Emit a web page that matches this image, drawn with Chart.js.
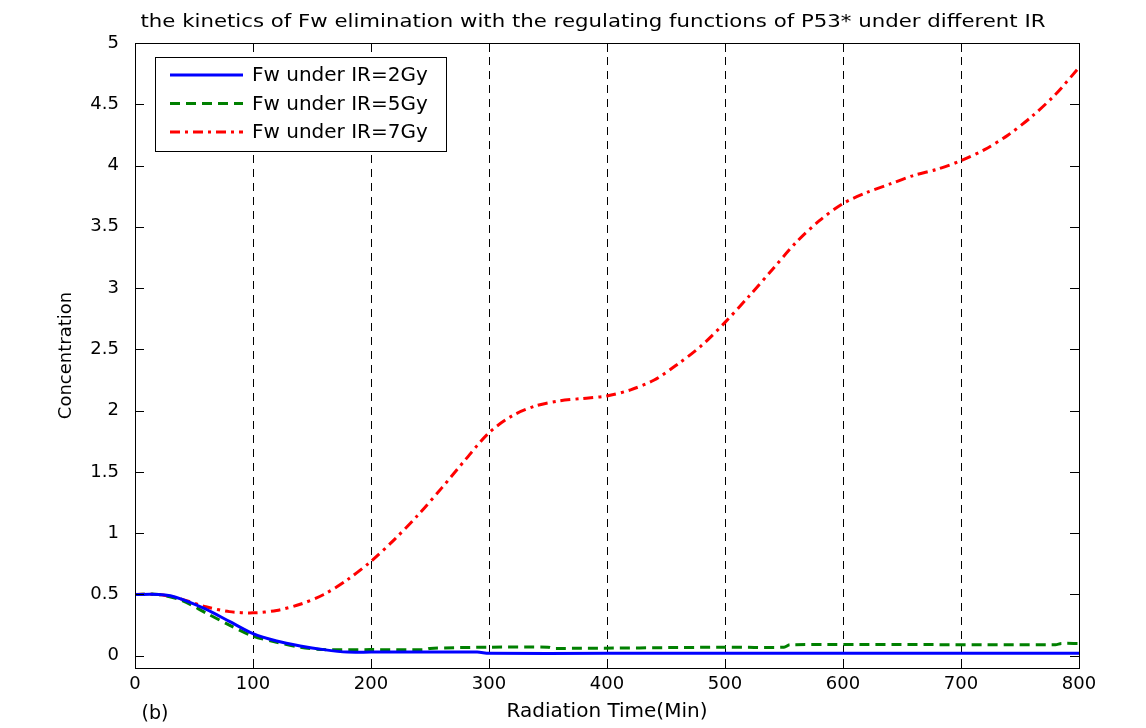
<!DOCTYPE html>
<html lang="en">
<head>
    <meta charset="UTF-8">
    <title>Fw elimination</title>
    <script src="https://cdn.jsdelivr.net/npm/chart.js"></script>
    <style>
        body { margin: 0; background: #fff; }
        #box { width: 1146px; height: 728px; }
    </style>
</head>
<body>
<div id="box"><canvas id="grafico"></canvas></div>
<script>
    // dados
    const tempoVermelho = [0, 20, 40, 60, 80, 100, 120, 140, 160, 180, 200, 220, 240, 260, 280, 300, 320, 340, 360, 380, 400, 420, 440, 460, 480, 500, 520, 540, 560, 580, 600, 620, 640, 660, 680, 700, 720, 740, 760, 780, 800];
    const fw7Gy = [0.5, 0.5, 0.46, 0.4, 0.36, 0.35, 0.37, 0.42, 0.5, 0.62, 0.77, 0.95, 1.15, 1.37, 1.6, 1.82, 1.96, 2.04, 2.08, 2.1, 2.12, 2.17, 2.25, 2.38, 2.53, 2.72, 2.93, 3.15, 3.37, 3.55, 3.69, 3.78, 3.85, 3.92, 3.97, 4.04, 4.13, 4.25, 4.4, 4.58, 4.8];

    const tempoAzul = [0, 20, 30, 40, 60, 80, 100, 120, 140, 160, 180, 200, 290, 300, 400, 800];
    const fw2Gy = [0.5, 0.5, 0.49, 0.46, 0.38, 0.28, 0.18, 0.12, 0.08, 0.05, 0.03, 0.03, 0.03, 0.02, 0.02, 0.02];

    const tempoVerde = [0, 20, 40, 60, 80, 100, 120, 140, 160, 200, 245, 250, 300, 350, 355, 500, 550, 555, 780, 785, 800];
    const fw5Gy = [0.5, 0.5, 0.45, 0.35, 0.25, 0.16, 0.11, 0.07, 0.05, 0.05, 0.05, 0.06, 0.07, 0.07, 0.06, 0.07, 0.07, 0.09, 0.09, 0.1, 0.1];

    const ticksX = [0, 100, 200, 300, 400, 500, 600, 700, 800];
    const ticksY = [0, 0.5, 1, 1.5, 2, 2.5, 3, 3.5, 4, 4.5, 5];

    const legendas = ['Fw under IR=2Gy', 'Fw under IR=5Gy', 'Fw under IR=7Gy'];
    const titulo = 'the kinetics of Fw elimination with the regulating functions of P53* under different IR';

    function pares(xs, ys) {
        return xs.map((x, i) => ({ x: x, y: ys[i] }));
    }

    const fonte = '"DejaVu Sans", "Liberation Sans", Arial, sans-serif';

    const estilos = [
        { cor: '#0000ff', dash: [] },
        { cor: '#008000', dash: [10, 6] },
        { cor: '#ff0000', dash: [10, 5, 3, 5] }
    ];

    // texto esticado na horizontal ate a largura pedida
    function textoLargura(ctx, t, cx, cy, largura) {
        const w = ctx.measureText(t).width;
        ctx.save();
        ctx.translate(cx, cy);
        ctx.scale(largura / w, 1);
        ctx.textAlign = 'center';
        ctx.fillText(t, 0, 0);
        ctx.restore();
    }

    // caixa, ticks internos, titulo e legenda estilo matlab
    const extras = {
        id: 'extras',
        afterDatasetsDraw(chart) {
            const ctx = chart.ctx;
            const a = chart.chartArea;
            const sx = chart.scales.x, sy = chart.scales.y;
            ctx.save();
            ctx.strokeStyle = '#000';
            ctx.lineWidth = 1;
            ctx.setLineDash([]);
            ctx.strokeRect(a.left + 0.5, a.top + 0.5, a.right - a.left, a.bottom - a.top);
            ctx.beginPath();
            ticksX.forEach(v => {
                const p = Math.round(sx.getPixelForValue(v)) + 0.5;
                ctx.moveTo(p, a.bottom); ctx.lineTo(p, a.bottom - 9);
                ctx.moveTo(p, a.top); ctx.lineTo(p, a.top + 9);
            });
            ticksY.forEach(v => {
                const p = Math.round(sy.getPixelForValue(v)) + 0.5;
                ctx.moveTo(a.left, p); ctx.lineTo(a.left + 9, p);
                ctx.moveTo(a.right, p); ctx.lineTo(a.right - 9, p);
            });
            ctx.stroke();

            // titulo
            ctx.fillStyle = '#000';
            ctx.font = '18px ' + fonte;
            ctx.textBaseline = 'middle';
            textoLargura(ctx, titulo, 593, 22, 905);

            // (b)
            ctx.font = '19px ' + fonte;
            ctx.textAlign = 'center';
            ctx.fillText('(b)', 155, 714);

            // legenda
            ctx.fillStyle = '#fff';
            ctx.fillRect(155, 57, 291, 94);
            ctx.strokeRect(155.5, 57.5, 291, 94);
            ctx.textAlign = 'left';
            ctx.fillStyle = '#000';
            ctx.font = '20px ' + fonte;
            legendas.forEach((t, i) => {
                const y = 75 + i * 28.5;
                ctx.strokeStyle = estilos[i].cor;
                ctx.lineWidth = 3;
                ctx.setLineDash(estilos[i].dash);
                ctx.beginPath();
                ctx.moveTo(170, y); ctx.lineTo(243, y);
                ctx.stroke();
                ctx.fillText(t, 252, y + 1);
            });
            ctx.restore();
        }
    };

    const data = {
        datasets: [
            { label: legendas[0], data: pares(tempoAzul, fw2Gy) },
            { label: legendas[1], data: pares(tempoVerde, fw5Gy) },
            { label: legendas[2], data: pares(tempoVermelho, fw7Gy) }
        ].map((d, i) => Object.assign(d, {
            borderColor: estilos[i].cor,
            borderDash: estilos[i].dash,
            borderWidth: 3,
            pointRadius: 0,
            tension: 0.3,
            fill: false
        }))
    };

    const options = {
        responsive: true,
        maintainAspectRatio: false,
        animation: false,
        layout: { padding: { left: 56, right: 67, top: 43, bottom: 0 } },
        plugins: { legend: { display: false }, title: { display: false }, tooltip: { enabled: false } },
        scales: {
            x: {
                type: 'linear',
                min: 0, max: 800,
                afterBuildTicks: s => { s.ticks = ticksX.map(v => ({ value: v })); },
                afterFit: s => { s.height = 60; },
                ticks: { color: '#000', font: { family: fonte, size: 18 }, padding: 6, maxRotation: 0, callback: v => String(v) },
                grid: {
                    drawTicks: false,
                    color: c => (c.tick.value > 0 && c.tick.value < 800) ? '#000' : 'rgba(0,0,0,0)',
                    lineWidth: 1
                },
                border: { display: false, dash: [8, 6] },
                title: { display: true, text: 'Radiation Time(Min)', color: '#000', font: { family: fonte, size: 20 }, padding: { top: 4 } }
            },
            y: {
                min: -0.1, max: 5,
                afterBuildTicks: s => { s.ticks = ticksY.map(v => ({ value: v })); },
                afterFit: s => { s.width = 79; },
                ticks: { color: '#000', font: { family: fonte, size: 18 }, padding: 8, callback: v => String(v) },
                grid: { display: false },
                border: { display: false },
                title: { display: true, text: 'Concentration', color: '#000', font: { family: fonte, size: 18 }, padding: 0 }
            }
        }
    };

    new Chart(document.getElementById('grafico').getContext('2d'), {
        type: 'line',
        data: data,
        options: options,
        plugins: [extras]
    });
</script>
</body>
</html>
